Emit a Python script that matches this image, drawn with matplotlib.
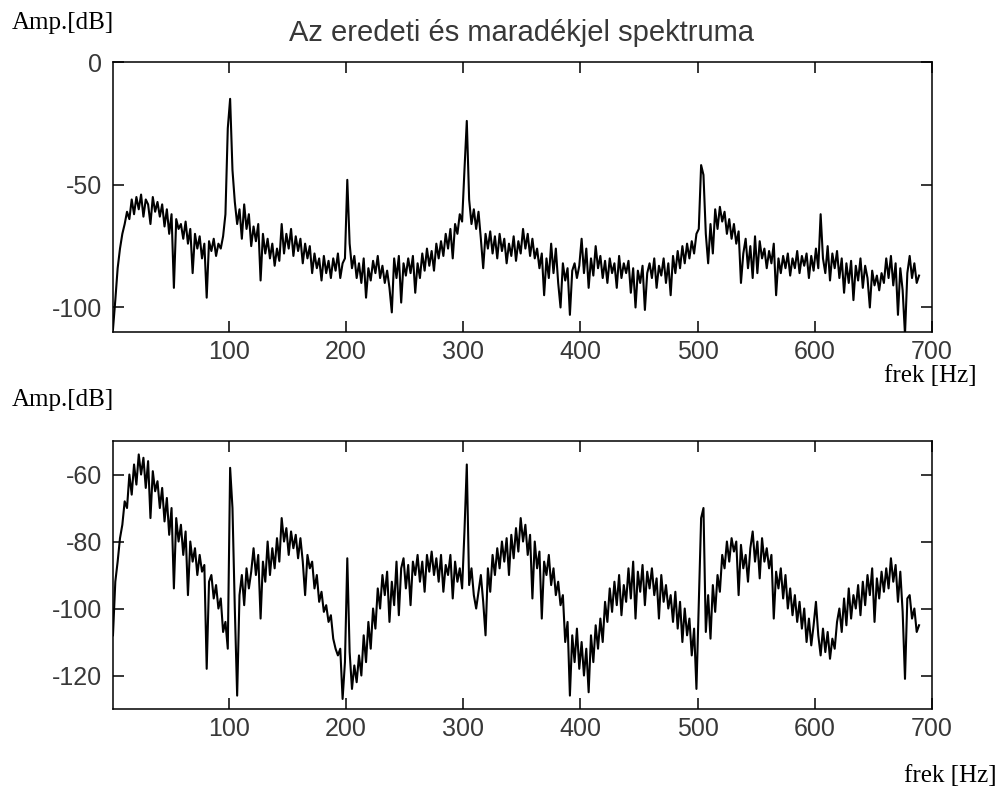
"""
Spectrum of the original signal and of the residual signal after removing
the mains harmonics. Two stacked panels, amplitude in dB over frequency.
"""
import numpy as np
import matplotlib
matplotlib.use("Agg")
import matplotlib.pyplot as plt

plt.rcParams["axes.unicode_minus"] = False

# frequency grid of the spectra, 2 Hz step
freq_hz = np.arange(1, 690, 2)

# original signal spectrum [dB], 10 bins (20 Hz) per row
orig_db = [
    -109, -97, -84, -76, -70, -66, -61, -64, -56, -62,
    -55, -60, -54, -63, -56, -58, -66, -55, -61, -57,
    -63, -58, -67, -60, -70, -62, -92, -64, -68, -66,
    -72, -65, -74, -68, -86, -70, -76, -71, -80, -74,
    -96, -73, -77, -72, -79, -74, -76, -71, -62, -27,
    -15, -44, -57, -66, -60, -72, -58, -68, -62, -75,
    -67, -73, -66, -89, -70, -78, -72, -80, -74, -83,
    -76, -81, -66, -78, -70, -76, -68, -79, -71, -77,
    -72, -82, -74, -80, -75, -86, -78, -84, -80, -89,
    -79, -86, -81, -88, -80, -85, -78, -88, -82, -80,
    -48, -74, -84, -79, -88, -82, -90, -80, -96, -84,
    -89, -81, -86, -79, -88, -83, -90, -85, -92, -102,
    -80, -88, -79, -98, -82, -87, -80, -86, -79, -94,
    -82, -88, -78, -85, -76, -83, -77, -85, -74, -80,
    -73, -79, -70, -76, -68, -80, -66, -70, -62, -65,
    -44, -24, -56, -66, -60, -68, -61, -72, -84, -70,
    -76, -69, -78, -71, -80, -70, -77, -72, -82, -74,
    -79, -71, -81, -73, -78, -68, -76, -70, -79, -72,
    -80, -76, -84, -78, -95, -80, -88, -74, -86, -76,
    -90, -100, -82, -89, -84, -103, -85, -82, -88, -83,
    -72, -86, -76, -92, -80, -87, -75, -84, -79, -88,
    -81, -90, -80, -86, -82, -92, -79, -88, -82, -86,
    -81, -94, -84, -100, -85, -90, -83, -101, -86, -82,
    -88, -80, -92, -83, -87, -80, -90, -82, -95, -79,
    -86, -77, -84, -75, -82, -74, -80, -73, -78, -70,
    -68, -42, -46, -70, -82, -66, -78, -60, -68, -59,
    -65, -61, -70, -64, -72, -66, -74, -69, -90, -78,
    -72, -84, -75, -88, -71, -86, -73, -80, -76, -84,
    -77, -82, -74, -95, -80, -86, -79, -84, -78, -87,
    -80, -84, -77, -86, -79, -83, -78, -88, -79, -85,
    -76, -84, -62, -80, -86, -75, -89, -78, -84, -77,
    -88, -80, -94, -82, -90, -81, -97, -83, -89, -80,
    -92, -83, -88, -100, -85, -91, -87, -93, -86, -90,
    -80, -88, -79, -91, -82, -103, -84, -93, -111, -86,
    -79, -88, -82, -90, -87,
]

# residual signal spectrum [dB]
resid_db = [
    -108, -92, -86, -79, -75, -68, -70, -60, -66, -57,
    -63, -54, -60, -55, -64, -56, -73, -59, -65, -62,
    -70, -64, -74, -67, -78, -70, -94, -73, -80, -75,
    -84, -77, -96, -80, -86, -82, -90, -84, -89, -87,
    -118, -92, -90, -97, -93, -100, -97, -107, -104, -112,
    -58, -70, -100, -126, -96, -90, -99, -88, -94, -89,
    -82, -90, -84, -103, -86, -92, -80, -90, -82, -88,
    -79, -86, -73, -80, -76, -84, -77, -82, -78, -85,
    -79, -86, -96, -84, -88, -86, -94, -90, -98, -95,
    -101, -99, -104, -102, -109, -112, -114, -112, -127, -116,
    -85, -113, -124, -117, -122, -114, -120, -108, -116, -104,
    -112, -100, -106, -94, -100, -90, -96, -89, -104, -92,
    -99, -86, -102, -88, -85, -94, -87, -99, -86, -90,
    -84, -92, -86, -95, -84, -89, -83, -90, -85, -92,
    -84, -95, -87, -90, -84, -97, -86, -92, -88, -94,
    -77, -57, -93, -88, -96, -100, -95, -90, -98, -108,
    -88, -95, -84, -90, -82, -88, -80, -86, -79, -90,
    -78, -85, -76, -83, -73, -80, -75, -84, -78, -97,
    -80, -88, -83, -103, -86, -90, -84, -93, -88, -96,
    -92, -99, -96, -110, -104, -126, -108, -116, -106, -118,
    -110, -120, -112, -125, -108, -116, -105, -112, -103, -110,
    -98, -104, -94, -101, -92, -99, -90, -102, -93, -98,
    -88, -97, -86, -103, -89, -95, -87, -99, -89, -94,
    -88, -96, -91, -103, -90, -98, -93, -100, -96, -104,
    -95, -106, -98, -110, -100, -108, -103, -114, -106, -124,
    -98, -73, -70, -107, -96, -109, -93, -101, -90, -95,
    -84, -88, -80, -86, -79, -83, -80, -96, -81, -88,
    -84, -92, -82, -77, -86, -80, -91, -79, -86, -82,
    -88, -84, -103, -89, -94, -88, -97, -90, -100, -94,
    -102, -96, -104, -98, -106, -100, -110, -103, -111, -105,
    -98, -108, -114, -106, -113, -107, -115, -109, -112, -104,
    -100, -107, -97, -105, -94, -103, -96, -100, -93, -102,
    -92, -99, -90, -96, -88, -104, -91, -97, -89, -95,
    -88, -94, -85, -92, -87, -98, -89, -101, -121, -97,
    -96, -103, -100, -107, -105,
]

x_ticks = [100, 200, 300, 400, 500, 600, 700]
orig_y_ticks = [-100, -50, 0]
resid_y_ticks = [-120, -100, -80, -60]

title = "Az eredeti és maradékjel spektruma"
y_label = "Amp.[dB]"
x_label = "frek [Hz]"

SANS = "Liberation Sans"
SERIF = "Liberation Serif"
TEXT_GRAY = "#383838"


def style_axis(ax, yticks, ylim):
    ax.set_xlim(1, 700)
    ax.set_ylim(*ylim)
    ax.set_xticks(x_ticks)
    ax.set_yticks(yticks)
    ax.tick_params(direction="in", length=8, width=1.1, top=True, right=True,
                   labelsize=18, labelcolor=TEXT_GRAY, color="black")
    ax.tick_params(axis="x", pad=6)
    ax.tick_params(axis="y", pad=8)
    for lab in ax.get_xticklabels() + ax.get_yticklabels():
        lab.set_fontfamily(SANS)
    for sp in ax.spines.values():
        sp.set_linewidth(1.1)
        sp.set_color("black")


fig = plt.figure(figsize=(10.05, 7.87), dpi=100)
ax_top = fig.add_axes([0.1124, 0.5781, 0.8149, 0.3431])
ax_bot = fig.add_axes([0.1124, 0.0991, 0.8149, 0.3405])

ax_top.plot(freq_hz, orig_db, color="black", linewidth=1.5)
ax_bot.plot(freq_hz, resid_db, color="black", linewidth=1.5)

style_axis(ax_top, orig_y_ticks, (-110, 0))
style_axis(ax_bot, resid_y_ticks, (-130, -50))

fig.text(0.519, 1 - 33 / 787, title, ha="center", va="center",
         fontsize=21, family=SANS, color=TEXT_GRAY)

# axis captions sit outside the axes, MATLAB-style
fig.text(12 / 1005, 1 - 29 / 787, y_label, ha="left", va="baseline",
         fontsize=18, family=SERIF, color="black")
fig.text(12 / 1005, 1 - 406 / 787, y_label, ha="left", va="baseline",
         fontsize=18, family=SERIF, color="black")
fig.text(977 / 1005, 1 - 382 / 787, x_label, ha="right", va="baseline",
         fontsize=18, family=SERIF, color="black")
fig.text(997 / 1005, 1 - 782 / 787, x_label, ha="right", va="baseline",
         fontsize=18, family=SERIF, color="black")

fig.savefig("out.png", dpi=100)
